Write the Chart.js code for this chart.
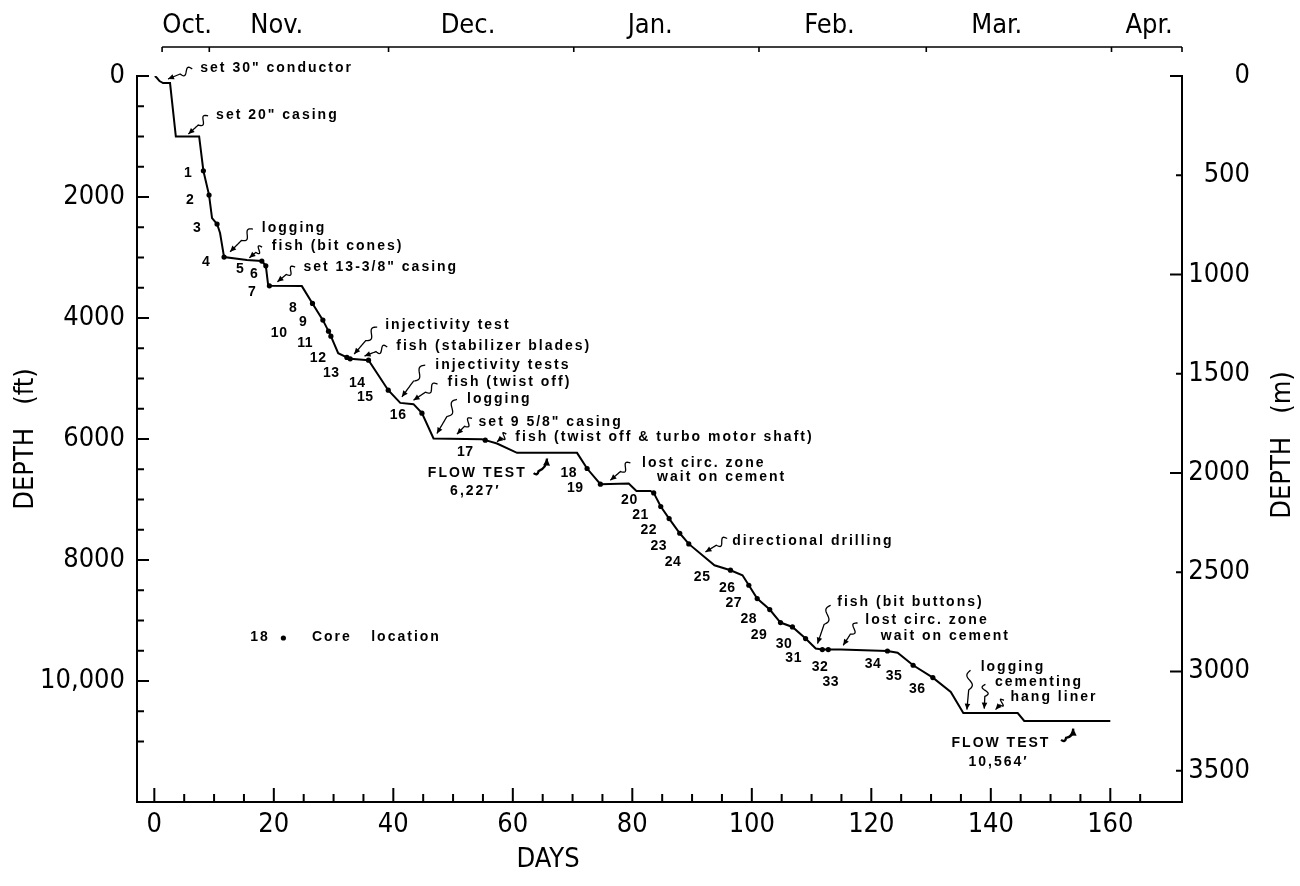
<!DOCTYPE html>
<html>
<head>
<meta charset="utf-8">
<title>Drilling progress</title>
<script src="https://cdn.jsdelivr.net/npm/chart.js@4.4.1/dist/chart.umd.min.js"></script>
<style>
  html, body { margin: 0; padding: 0; background: #fff; }
</style>
</head>
<body>
<canvas id="chart" width="1300" height="886"></canvas>
<script>
// drilling curve, days after spud vs depth in feet
const days = [0.1, 0.45, 0.87, 1.46, 2.63, 3.6, 7.5, 8.21, 9.16, 9.66,
  10.5, 11.0, 11.67, 15.48, 17.99, 18.66, 19.05, 19.26, 24.69, 26.47,
  28.21, 29.15, 29.55, 30.77, 32.23, 32.78, 35.85, 39.15, 41.16, 43.38,
  44.79, 46.73, 54.84, 55.39, 57.35, 60.7, 70.75, 72.43, 74.66, 79.4,
  80.69, 83.03, 83.58, 84.76, 86.16, 87.94, 89.45, 93.75, 96.43, 98.44,
  99.5, 100.9, 103.0, 104.8, 106.8, 109.0, 110.7, 111.8, 112.8, 114.9,
  122.7, 124.4, 127.0, 130.3, 133.3, 135.4, 144.5, 145.6, 160.0];
const depthFt = [0, 33, 83, 116, 116, 1000, 1000, 1566, 1968, 2348,
  2447, 2596, 2993, 3043, 3059, 3137, 3456, 3468, 3473, 3759,
  4035, 4217, 4300, 4581, 4652, 4675, 4697, 5193, 5403, 5424,
  5573, 5991, 6003, 6019, 6074, 6229, 6229, 6488, 6747, 6736,
  6858, 6858, 6891, 7116, 7315, 7558, 7734, 8087, 8169, 8252,
  8417, 8637, 8819, 9034, 9107, 9299, 9464, 9481, 9481, 9481,
  9504, 9534, 9740, 9944, 10182, 10529, 10529, 10661, 10661];

// core locations (numbered 1..36)
const coreDays = [8.21, 9.16, 10.5, 11.67, 17.99, 18.66, 19.26, 26.47, 28.21, 29.15,
  29.55, 32.23, 32.78, 35.85, 39.15, 44.79, 55.39, 72.43, 74.66, 83.58,
  84.76, 86.16, 87.94, 89.45, 96.43, 99.5, 100.9, 103.0, 104.8, 106.8,
  109.0, 111.8, 112.8, 122.7, 127.0, 130.3];
const coreFt = [1566, 1968, 2447, 2993, 3059, 3137, 3468, 3759, 4035, 4217,
  4300, 4652, 4675, 4697, 5193, 5573, 6019, 6488, 6747, 6891,
  7116, 7315, 7558, 7734, 8169, 8417, 8637, 8819, 9034, 9107,
  9299, 9481, 9481, 9504, 9740, 9944];
// where each core number is written
const coreLabelDays = [5.68, 6.0, 7.15, 8.66, 14.36, 16.7, 16.36, 23.23, 24.91, 20.89,
  25.24, 27.42, 29.6, 33.95, 35.29, 40.81, 52.05, 69.35, 70.47, 79.51,
  81.36, 82.75, 84.42, 86.83, 91.69, 95.88, 96.98, 99.5, 101.2, 105.4,
  107.0, 111.4, 113.2, 120.3, 123.8, 127.7];
const coreLabelFt = [1604, 2051, 2514, 3076, 3192, 3274, 3572, 3837, 4068, 4250,
  4415, 4663, 4911, 5076, 5308, 5606, 6218, 6570, 6818, 7012,
  7260, 7508, 7772, 8032, 8280, 8472, 8720, 8985, 9244, 9393,
  9630, 9768, 10017, 9724, 9922, 10142];

// ticks
const dayTicks = [0, 5, 10, 15, 20, 25, 30, 35, 40, 45, 50, 55, 60, 65, 70, 75, 80, 85,
  90, 95, 100, 105, 110, 115, 120, 125, 130, 135, 140, 145, 150, 155, 160, 165];
const ftTicks = [0, 500, 1000, 1500, 2000, 2500, 3000, 3500, 4000, 4500, 5000, 5500,
  6000, 6500, 7000, 7500, 8000, 8500, 9000, 9500, 10000, 10500, 11000];
const mTicks = [0, 500, 1000, 1500, 2000, 2500, 3000, 3500];
const monthNames = ['Oct.', 'Nov.', 'Dec.', 'Jan.', 'Feb.', 'Mar.', 'Apr.'];
const monthLabelDays = [5.5, 20.5, 52.5, 83, 113, 141, 166.5];
const monthEdges = [1.3, 9.2, 39.2, 70.2, 101.2, 129.2, 160.2];

// annotations: text, day, depth (ft), alignment
const noteTexts = [
  ['set 30" conductor', 7.69, -132, 'left'],
  ['set 20" casing', 10.34, 645, 'left'],
  ['logging', 18.0, 2509, 'left'],
  ['fish (bit cones)', 19.67, 2806, 'left'],
  ['set 13-3/8" casing', 24.96, 3154, 'left'],
  ['injectivity test', 38.64, 4118, 'left'],
  ['fish (stabilizer blades)', 40.49, 4465, 'left'],
  ['injectivity tests', 47.02, 4779, 'left'],
  ['fish (twist off)', 49.08, 5055, 'left'],
  ['logging', 52.33, 5346, 'left'],
  ['set 9 5/8" casing', 54.27, 5717, 'left'],
  ['fish (twist off & turbo motor shaft)', 60.42, 5975, 'left'],
  ['FLOW TEST', 54.05, 6570, 'center'],
  ['6,227\u2032', 53.72, 6858, 'center'],
  ['lost circ. zone', 81.64, 6395, 'left'],
  ['wait on cement', 84.15, 6636, 'left'],
  ['directional drilling', 96.72, 7685, 'left'],
  ['fish (bit buttons)', 114.3, 8694, 'left'],
  ['lost circ. zone', 119.0, 8996, 'left'],
  ['wait on cement', 121.6, 9261, 'left'],
  ['logging', 138.3, 9769, 'left'],
  ['cementing', 140.7, 10017, 'left'],
  ['hang liner', 143.3, 10265, 'left'],
  ['FLOW TEST', 141.7, 11035, 'center'],
  ['10,564\u2032', 141.3, 11349, 'center'],
  ['18', 17.7, 9272, 'center'],
  ['Core', 26.37, 9272, 'left'],
  ['location', 36.3, 9272, 'left']
];
// arrows: from day, from ft, to day, to ft, kind
const noteArrows = [
  [6.35, -116, 2.29, 50, 'wave'],
  [9.0, 661, 5.7, 959, 'wave'],
  [16.5, 2530, 12.68, 2906, 'wave'],
  [18.04, 2828, 15.91, 3005, 'wave'],
  [23.57, 3159, 20.6, 3402, 'wave'],
  [37.3, 4151, 33.45, 4597, 'wave'],
  [38.99, 4481, 35.18, 4630, 'wave'],
  [45.34, 4779, 41.44, 5303, 'wave'],
  [47.4, 5093, 43.38, 5358, 'wave'],
  [50.65, 5346, 47.3, 5909, 'wave'],
  [53.17, 5661, 50.65, 5920, 'wave'],
  [58.91, 5920, 57.35, 6047, 'wave'],
  [64.32, 6580, 65.73, 6322, 'hook'],
  [79.68, 6395, 76.33, 6681, 'wave'],
  [95.88, 7645, 92.24, 7867, 'wave'],
  [113.2, 8748, 111.0, 9382, 'wave'],
  [117.7, 9041, 115.3, 9410, 'wave'],
  [136.6, 9824, 136.0, 10473, 'wave'],
  [139.1, 10055, 138.9, 10457, 'wave'],
  [142.2, 10319, 140.8, 10473, 'wave'],
  [152.6, 10990, 153.8, 10787, 'hook']
];
const legendDot = [21.6, 9289];

const FT_PER_M = 3.28084;
const axisFamily = '"Liberation Sans Narrow", "DejaVu Sans Condensed", "DejaVu Sans", sans-serif';
const axisFont = { family: axisFamily, size: 27 };
const noteFamily = '"Liberation Sans", Arial, sans-serif';

function arrowHead(ctx, tx, ty, ang, len, half) {
  ctx.beginPath();
  ctx.moveTo(tx, ty);
  ctx.lineTo(tx - len * Math.cos(ang) + half * Math.sin(ang), ty - len * Math.sin(ang) - half * Math.cos(ang));
  ctx.lineTo(tx - len * Math.cos(ang) - half * Math.sin(ang), ty - len * Math.sin(ang) + half * Math.cos(ang));
  ctx.closePath();
  ctx.fill();
}

function drawArrow(ctx, x0, y0, x1, y1, kind) {
  const dx = x1 - x0, dy = y1 - y0;
  const len = Math.hypot(dx, dy);
  const ux = dx / len, uy = dy / len;
  const nx = -uy, ny = ux;
  if (kind === 'hook') {
    // J-shaped flow test pointer
    ctx.lineWidth = 2.4;
    const cx = (x0 + x1) / 2 + nx * 4, cy = (y0 + y1) / 2 + ny * 4;
    ctx.beginPath();
    ctx.moveTo(x0 - 5, y0 - 1);
    ctx.quadraticCurveTo(x0 - 1, y0 + 2, x0, y0 - 3);
    ctx.quadraticCurveTo(cx, cy, x1, y1);
    ctx.stroke();
    arrowHead(ctx, x1, y1, Math.atan2(y1 - cy, x1 - cx), 7, 3.5);
    return;
  }
  ctx.lineWidth = 1.3;
  const amp = 3.2;
  ctx.beginPath();
  const steps = 40;
  for (let i = 0; i <= steps; i++) {
    const t = i / steps;
    const w = t < 0.5 ? amp * Math.sin(t / 0.5 * 2 * Math.PI) : 0;
    const px = x0 + dx * t + nx * w, py = y0 + dy * t + ny * w;
    if (i === 0) ctx.moveTo(px, py); else ctx.lineTo(px, py);
  }
  ctx.stroke();
  arrowHead(ctx, x1, y1, Math.atan2(dy, dx), 6, 2.8);
}

const extras = {
  id: 'extras',
  afterDraw(chart) {
    const { ctx, chartArea: area, scales } = chart;
    const { x, y, yM, months } = scales;
    ctx.save();
    ctx.strokeStyle = '#000';
    ctx.fillStyle = '#000';

    // tick marks pointing into the plot
    ctx.lineWidth = 2;
    ctx.beginPath();
    dayTicks.forEach(v => {
      const px = x.getPixelForValue(v);
      const len = v % 20 === 0 ? 14 : 8;
      ctx.moveTo(px, area.bottom);
      ctx.lineTo(px, area.bottom - len);
    });
    ftTicks.forEach(v => {
      const py = y.getPixelForValue(v);
      const len = v % 2000 === 0 ? 12 : 7;
      ctx.moveTo(area.left, py);
      ctx.lineTo(area.left + len, py);
    });
    mTicks.forEach(v => {
      const py = yM.getPixelForValue(v);
      const len = v % 1000 === 0 ? 12 : 6;
      ctx.moveTo(area.right, py);
      ctx.lineTo(area.right - len, py);
    });
    ctx.stroke();

    // calendar bar along the top
    const top = months.bottom;
    ctx.lineWidth = 1.6;
    ctx.beginPath();
    ctx.moveTo(months.getPixelForValue(monthEdges[0]), top);
    ctx.lineTo(months.getPixelForValue(months.max), top);
    monthEdges.concat([months.max]).forEach(v => {
      const px = months.getPixelForValue(v);
      ctx.moveTo(px, top);
      ctx.lineTo(px, top + 5);
    });
    ctx.stroke();

    // axis titles not handled by Chart.js
    ctx.font = `${axisFont.size}px ${axisFamily}`;
    ctx.textAlign = 'center';
    ctx.textBaseline = 'middle';
    ctx.fillText('DAYS', x.getPixelForValue(65.9), area.bottom + 58);
    ctx.save();
    ctx.translate(area.right + 101, (area.top + area.bottom) / 2 + 6);
    ctx.rotate(-Math.PI / 2);
    ctx.fillText('DEPTH   (m)', 0, 0);
    ctx.restore();

    // core numbers
    ctx.font = `bold 14px ${noteFamily}`;
    ctx.letterSpacing = '0.5px';
    coreLabelDays.forEach((d, i) => {
      ctx.fillText(String(i + 1), x.getPixelForValue(d), y.getPixelForValue(coreLabelFt[i]));
    });

    // annotations
    ctx.letterSpacing = '2px';
    noteTexts.forEach(([text, d, ft, align]) => {
      ctx.textAlign = align;
      ctx.fillText(text, x.getPixelForValue(d), y.getPixelForValue(ft));
    });
    ctx.letterSpacing = '0px';
    noteArrows.forEach(([d0, f0, d1, f1, kind]) => {
      drawArrow(ctx, x.getPixelForValue(d0), y.getPixelForValue(f0),
        x.getPixelForValue(d1), y.getPixelForValue(f1), kind);
    });
    ctx.beginPath();
    ctx.arc(x.getPixelForValue(legendDot[0]), y.getPixelForValue(legendDot[1]), 2.6, 0, Math.PI * 2);
    ctx.fill();
    ctx.restore();
  }
};

const ctx = document.getElementById('chart').getContext('2d');
new Chart(ctx, {
  type: 'line',
  data: {
    datasets: [{
      label: 'Depth',
      data: days.map((d, i) => ({ x: d, y: depthFt[i] })),
      xAxisID: 'x',
      yAxisID: 'y',
      borderColor: '#000',
      borderWidth: 2,
      pointRadius: 0,
      tension: 0,
      fill: false
    }, {
      label: 'Core location',
      type: 'scatter',
      data: coreDays.map((d, i) => ({ x: d, y: coreFt[i] })),
      xAxisID: 'x',
      yAxisID: 'y',
      backgroundColor: '#000',
      borderColor: '#000',
      pointRadius: 2.6,
      borderWidth: 0
    }]
  },
  options: {
    responsive: false,
    animation: false,
    layout: { padding: { right: 50 } },
    plugins: { legend: { display: false }, tooltip: { enabled: false } },
    scales: {
      x: {
        type: 'linear',
        position: 'bottom',
        min: -2.9,
        max: 172,
        grid: { display: false, drawTicks: false },
        border: { color: '#000', width: 2 },
        afterBuildTicks: s => { s.ticks = dayTicks.map(v => ({ value: v })); },
        afterFit: s => { s.height = 84; },
        ticks: {
          color: '#000', font: axisFont, padding: 7, autoSkip: false, maxRotation: 0,
          callback: v => (v % 20 === 0 ? String(v) : '')
        }
      },
      months: {
        type: 'linear',
        position: 'top',
        weight: 2,
        min: -2.9,
        max: 172,
        grid: { display: false, drawTicks: false },
        border: { display: false },
        afterBuildTicks: s => { s.ticks = monthLabelDays.map(v => ({ value: v })); },
        afterFit: s => { s.height = 47; },
        ticks: {
          color: '#000', font: axisFont, padding: 5, autoSkip: false, maxRotation: 0,
          callback: (v, i) => monthNames[i]
        }
      },
      gap: {
        type: 'linear',
        position: 'top',
        weight: 1,
        grid: { display: false, drawTicks: false },
        border: { display: false },
        ticks: { display: false },
        afterFit: s => { s.height = 29; }
      },
      y: {
        type: 'linear',
        position: 'left',
        reverse: true,
        min: 0,
        max: 12000,
        grid: { display: false, drawTicks: false },
        border: { color: '#000', width: 2 },
        afterBuildTicks: s => { s.ticks = ftTicks.map(v => ({ value: v })); },
        afterFit: s => { s.width = 137; },
        ticks: {
          color: '#000', font: axisFont, padding: 12, autoSkip: false,
          callback: v => (v % 2000 === 0 ? (v >= 10000 ? v.toLocaleString('en-US') : String(v)) : '')
        },
        title: {
          display: true, text: 'DEPTH   (ft)', color: '#000', font: axisFont,
          padding: { top: 10, bottom: 0 }
        }
      },
      yM: {
        type: 'linear',
        position: 'right',
        reverse: true,
        min: 0,
        max: 12000 / FT_PER_M,
        grid: { display: false, drawTicks: false },
        border: { color: '#000', width: 2 },
        afterBuildTicks: s => { s.ticks = mTicks.map(v => ({ value: v })); },
        afterFit: s => { s.width = 68; },
        ticks: {
          color: '#000', font: axisFont, padding: 10, autoSkip: false, crossAlign: 'far',
          callback: v => String(v)
        }
      }
    }
  },
  plugins: [extras]
});
</script>
</body>
</html>
